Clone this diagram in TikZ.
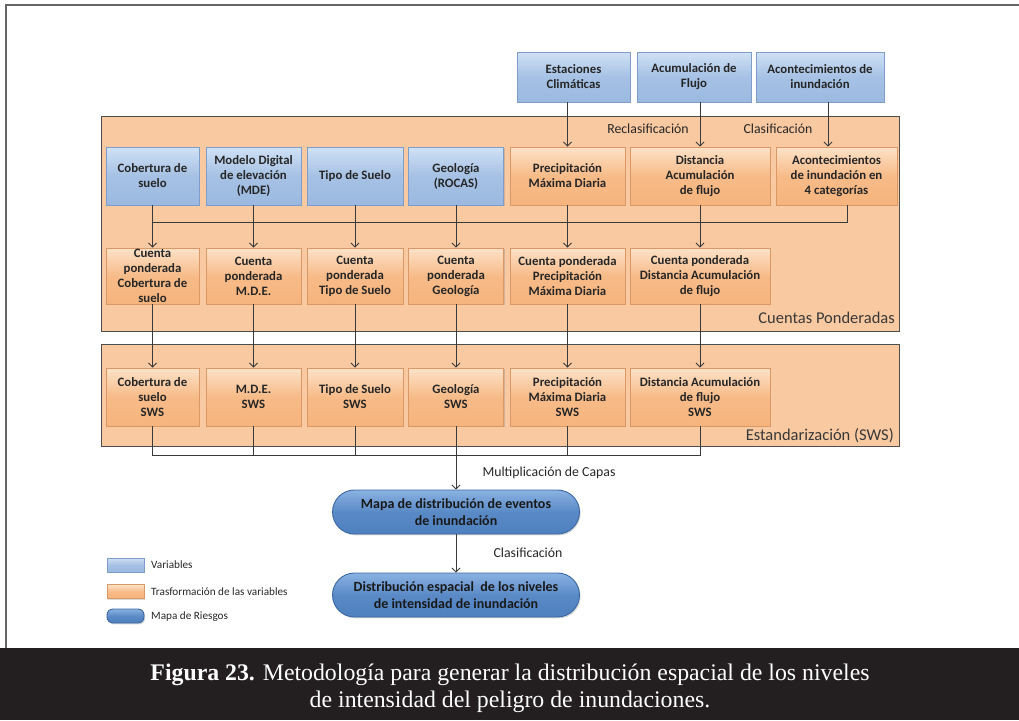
\documentclass[tikz,border=0pt]{standalone}
\usepackage{fontspec}
\setmainfont{Carlito}
\newfontfamily\capfont{Liberation Serif}
\usetikzlibrary{arrows.meta,shadows}

\definecolor{varlight}{HTML}{D0E1F5}
\definecolor{vardark}{HTML}{9BB9E0}
\definecolor{varborder}{HTML}{7E9DC8}
\definecolor{trflight}{HTML}{FDE2C8}
\definecolor{trfdark}{HTML}{F6B47D}
\definecolor{trfborder}{HTML}{D99865}
\definecolor{panelfill}{HTML}{F9C9A1}
\definecolor{panelborder}{HTML}{4D4D4D}
\definecolor{risklight}{HTML}{8AB2E2}
\definecolor{riskdark}{HTML}{4E80BF}
\definecolor{riskborder}{HTML}{3B68A3}
\definecolor{wire}{HTML}{3A3A3A}
\definecolor{captionbg}{HTML}{231F20}
\definecolor{inktext}{HTML}{262626}

\newcommand\bxfont{\fontsize{12.8}{15}\selectfont\bfseries}
\newcommand\lblfont{\fontsize{13.8}{16}\selectfont}

\tikzset{
  boxbase/.style={rectangle, align=center, inner sep=1pt, text=inktext,
    font=\bxfont, line width=0.8pt,
    drop shadow={shadow xshift=1.2pt, shadow yshift=-1.4pt, opacity=0.3}},
  varbox/.style={boxbase, draw=varborder, top color=varlight,
    bottom color=vardark, middle color=vardark!80!varlight},
  trfbox/.style={boxbase, draw=trfborder, top color=trflight,
    bottom color=trfdark, middle color=trfdark!85!trflight},
  riskbox/.style={rectangle, rounded corners=22pt, align=center,
    draw=riskborder, line width=0.9pt, top color=risklight,
    bottom color=riskdark, middle color=riskdark!80!risklight,
    text=black!90, font=\fontsize{14}{17.5}\selectfont\bfseries,
    minimum width=247pt, minimum height=44pt,
    drop shadow={shadow xshift=1.2pt, shadow yshift=-1.4pt, opacity=0.3}},
  panel/.style={fill=panelfill, draw=panelborder, line width=0.9pt},
  wireline/.style={draw=wire, line width=0.9pt},
  arr/.style={wireline, -{Straight Barb[length=4pt,width=8pt]}},
  steplabel/.style={font=\lblfont, text=inktext, inner sep=0pt},
  legendtext/.style={font=\fontsize{11.2}{13}\selectfont, text=inktext,
    anchor=west, inner sep=0pt}
}

\begin{document}
\begin{tikzpicture}[x=1pt,y=-1pt]
\useasboundingbox (0,0) rectangle (1019,720);

% page frame and caption band
\draw[draw=black!60, line width=1.6pt] (6,648) -- (6,5) -- (1019,5);
\fill[captionbg] (0,648) rectangle (1019,720);

% background panels
\draw[panel] (101,116) rectangle (899,331);
\draw[panel] (101,344) rectangle (899,446);
\node[font=\fontsize{16.5}{19}\selectfont, text=black!78, anchor=east,
  inner sep=0pt] (lblcp) at (895,318) {Cuentas Ponderadas};
\node[font=\fontsize{16.5}{19}\selectfont, text=black!78, anchor=east,
  inner sep=0pt] (lblsws) at (894,436) {Estandarización (SWS)};

% source variables
\node[varbox, minimum width=113pt, minimum height=50pt] (est) at (573.5,77) {Estaciones\\Climáticas};
\node[varbox, minimum width=114pt, minimum height=50pt] (acu) at (694,77) {Acumulación de\\Flujo};
\node[varbox, minimum width=128pt, minimum height=50pt] (acn) at (820,77) {Acontecimientos de\\inundación};

% first row: variables and their transformations
\node[varbox, minimum width=93pt, minimum height=58pt] (cob) at (152.5,176) {Cobertura de\\suelo};
\node[varbox, minimum width=95pt, minimum height=58pt] (mde) at (253.5,176) {Modelo Digital\\de elevación\\(MDE)};
\node[varbox, minimum width=96pt, minimum height=58pt] (tip) at (355,176) {Tipo de Suelo};
\node[varbox, minimum width=95pt, minimum height=58pt] (geo) at (456,176) {Geología\\(ROCAS)};
\node[trfbox, minimum width=115pt, minimum height=58pt] (pre) at (567.5,176) {Precipitación\\Máxima Diaria};
\node[trfbox, minimum width=140pt, minimum height=58pt] (dis) at (700,176) {Distancia\\Acumulación\\de flujo};
\node[trfbox, minimum width=121pt, minimum height=58pt] (aco) at (836.5,176) {Acontecimientos\\de inundación en\\4 categorías};

\node[steplabel] (lblrec) at (648,129) {Reclasificación};
\node[steplabel] (lblcla) at (778,129) {Clasificación};

% weighted counts
\node[trfbox, minimum width=93pt, minimum height=56pt] (c1) at (152.5,276) {Cuenta\\ponderada\\Cobertura de\\suelo};
\node[trfbox, minimum width=95pt, minimum height=56pt] (c2) at (253.5,276) {Cuenta\\ponderada\\M.D.E.};
\node[trfbox, minimum width=96pt, minimum height=56pt] (c3) at (355,276) {Cuenta\\ponderada\\Tipo de Suelo};
\node[trfbox, minimum width=95pt, minimum height=56pt] (c4) at (456,276) {Cuenta\\ponderada\\Geología};
\node[trfbox, minimum width=115pt, minimum height=56pt] (c5) at (567.5,276) {Cuenta ponderada\\Precipitación\\Máxima Diaria};
\node[trfbox, minimum width=140pt, minimum height=56pt] (c6) at (700,276) {Cuenta ponderada\\Distancia Acumulación\\de flujo};

% standardised layers
\node[trfbox, minimum width=93pt, minimum height=58pt] (s1) at (152.5,397) {Cobertura de\\suelo\\SWS};
\node[trfbox, minimum width=95pt, minimum height=58pt] (s2) at (253.5,397) {M.D.E.\\SWS};
\node[trfbox, minimum width=96pt, minimum height=58pt] (s3) at (355,397) {Tipo de Suelo\\SWS};
\node[trfbox, minimum width=95pt, minimum height=58pt] (s4) at (456,397) {Geología\\SWS};
\node[trfbox, minimum width=115pt, minimum height=58pt] (s5) at (567.5,397) {Precipitación\\Máxima Diaria\\SWS};
\node[trfbox, minimum width=140pt, minimum height=58pt] (s6) at (700,397) {Distancia Acumulación\\de flujo\\SWS};

% risk maps
\node[riskbox] (map) at (456,512) {Mapa de distribución de eventos\\de inundación};
\node[riskbox] (dst) at (456,595) {Distribución espacial\ \ de los niveles\\de intensidad de inundación};

\node[steplabel] (lblmul) at (549,473) {Multiplicación de Capas};
\node[steplabel] (lblcl2) at (528,553) {Clasificación};

% connectors: sources to first row
\draw[arr] (est.south -| pre.north) -- (pre.north);
\draw[arr] (acu.south -| dis.north) -- (dis.north);
\draw[arr] (acn.south -| 828,0) -- (aco.north -| 828,0);

% flood events layer joins every weighted count
\draw[wireline] (aco.south -| 847,0) |- (cob.south |- 0,222);
\foreach \a/\b in {cob/c1, mde/c2, tip/c3, geo/c4, pre/c5, dis/c6}
  \draw[arr] (\a.south) -- (\b.north);

% weighted counts to standardisation
\foreach \a/\b in {c1/s1, c2/s2, c3/s3, c4/s4, c5/s5, c6/s6}
  \draw[arr] (\a.south) -- (\b.north);

% layer multiplication
\draw[wireline] (s1.south) -- (s1.south |- 0,455) -- (s6.south |- 0,455) -- (s6.south);
\foreach \a in {s2, s3, s5}
  \draw[wireline] (\a.south) -- (\a.south |- 0,455);
\draw[arr] (s4.south) -- (map.north);
\draw[arr] (map.south) -- (dst.north);

% legend
\node[varbox, minimum width=37pt, minimum height=14pt, inner sep=0pt] (lgv) at (125.5,565) {};
\node[trfbox, minimum width=37pt, minimum height=14pt, inner sep=0pt] (lgt) at (125.5,591.5) {};
\node[riskbox, minimum width=37pt, minimum height=14pt, rounded corners=6pt, inner sep=0pt] (lgr) at (125.5,616) {};
\node[legendtext] (lgvt) at (151,565) {Variables};
\node[legendtext] (lgtt) at (151,591.5) {Trasformación de las variables};
\node[legendtext] (lgrt) at (151,617) {Mapa de Riesgos};

% caption
\node[text=white, align=center, inner sep=0pt,
  font=\capfont\fontsize{23.8}{27}\selectfont] (cap) at (510,688)
  {\textbf{Figura 23.} Metodología para generar la distribución espacial de los niveles\\
   de intensidad del peligro de inundaciones.};
\end{tikzpicture}
\end{document}
